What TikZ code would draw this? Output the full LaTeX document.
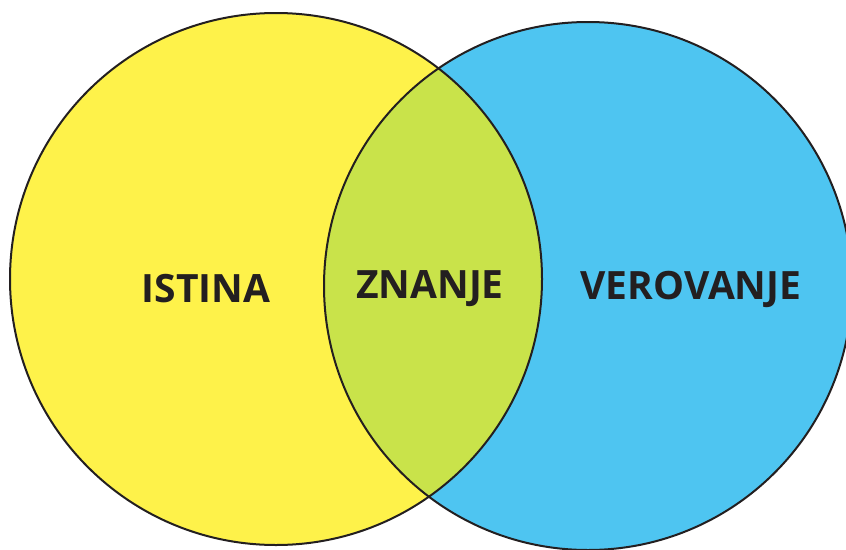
\documentclass[tikz,border=0pt]{standalone}
\usepackage{fontspec}
\setmainfont{Open Sans}
\definecolor{yel}{HTML}{FEF24A}
\definecolor{grn}{HTML}{C9E34A}
\definecolor{blu}{HTML}{4EC5F1}
\definecolor{ink}{HTML}{231F20}
\begin{document}
\begin{tikzpicture}[x=1pt,y=-1pt,
  lbl/.style={font=\fontsize{39}{44}\selectfont\bfseries, text=ink, inner sep=0pt, anchor=center},
  ring/.style={draw=ink, line width=2pt}]
\useasboundingbox (0,0) rectangle (846,549);
\clip (0,0) rectangle (846,549);
\coordinate (cl) at (276,279);
\coordinate (cr) at (588,286);
\fill[yel] (cl) circle[radius=266];
\fill[blu] (cr) circle[radius=264];
\begin{scope}
  \clip (cl) circle[radius=266];
  \fill[grn] (cr) circle[radius=264];
\end{scope}
\draw[ring] (cl) circle[radius=266];
\draw[ring] (cr) circle[radius=264];
\node[lbl] (istina) at (206,289) {ISTINA};
\node[lbl] (znanje) at (430,289) {ZNANJE};
\node[lbl] (verovanje) at (691,289) {VEROVANJE};
\end{tikzpicture}
\end{document}
